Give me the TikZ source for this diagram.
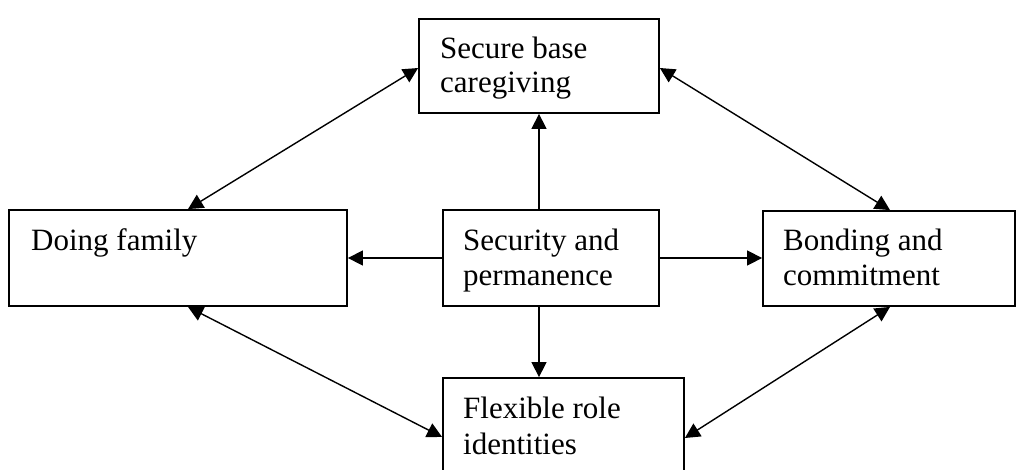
\documentclass[tikz,border=0pt]{standalone}
\usepackage{fontspec}
\setmainfont{Liberation Serif}
\usetikzlibrary{arrows.meta}
\begin{document}
\begin{tikzpicture}[x=1pt,y=-1pt,
  box/.style={draw, line width=1.8pt, rectangle, inner sep=0pt},
  txt/.style={anchor=base west, inner sep=0pt, font=\fontsize{31}{35}\selectfont},
  tip/.style={Triangle[length=15pt,width=15pt]},
  arr/.style={line width=1.4pt, -{Triangle[length=15pt,width=15pt]}},
  darr/.style={line width=1.4pt, {Triangle[length=15pt,width=15pt]}-{Triangle[length=15pt,width=15pt]}}]
\useasboundingbox (0,0) rectangle (1016,469);
% boxes
\node[box, minimum width=240pt, minimum height=94pt] (top) at (539,66) {};
\node[box, minimum width=338pt, minimum height=96pt] (left) at (178,258) {};
\node[box, minimum width=216pt, minimum height=96pt] (center) at (551,258) {};
\node[box, minimum width=252pt, minimum height=95pt] (right) at (889,258.5) {};
\node[box, minimum width=241pt, minimum height=96pt] (bottom) at (563.5,426) {};
% texts
\node[txt] (t1) at (440,58) {Secure base};
\node[txt] (t2) at (440,92) {caregiving};
\node[txt] (l1) at (31,250) {Doing family};
\node[txt] (c1) at (463,250) {Security and};
\node[txt] (c2) at (463,285) {permanence};
\node[txt] (r1) at (783,250) {Bonding and};
\node[txt] (r2) at (783,285) {commitment};
\node[txt] (b1) at (463,418) {Flexible role};
\node[txt] (b2) at (463,454) {identities};
% connectors from center
\draw[arr] (top.south |- center.north) -- (top.south);
\draw[arr] (top.south |- center.south) -- (top.south |- bottom.north);
\draw[arr] (center.west) -- (center.west -| left.east);
\draw[arr] (center.east) -- (center.east -| right.west);
% double-headed diagonals
\draw[darr] ([xshift=10pt]left.north) -- ([yshift=-2pt]top.west);
\draw[darr] ([yshift=-2pt]top.east) -- ([xshift=1pt]right.north);
\draw[darr] ([xshift=10pt]left.south) -- ([yshift=-11pt]bottom.west);
\draw[darr] ([xshift=1pt]right.south) -- ([yshift=-12pt]bottom.east);
\end{tikzpicture}
\end{document}
